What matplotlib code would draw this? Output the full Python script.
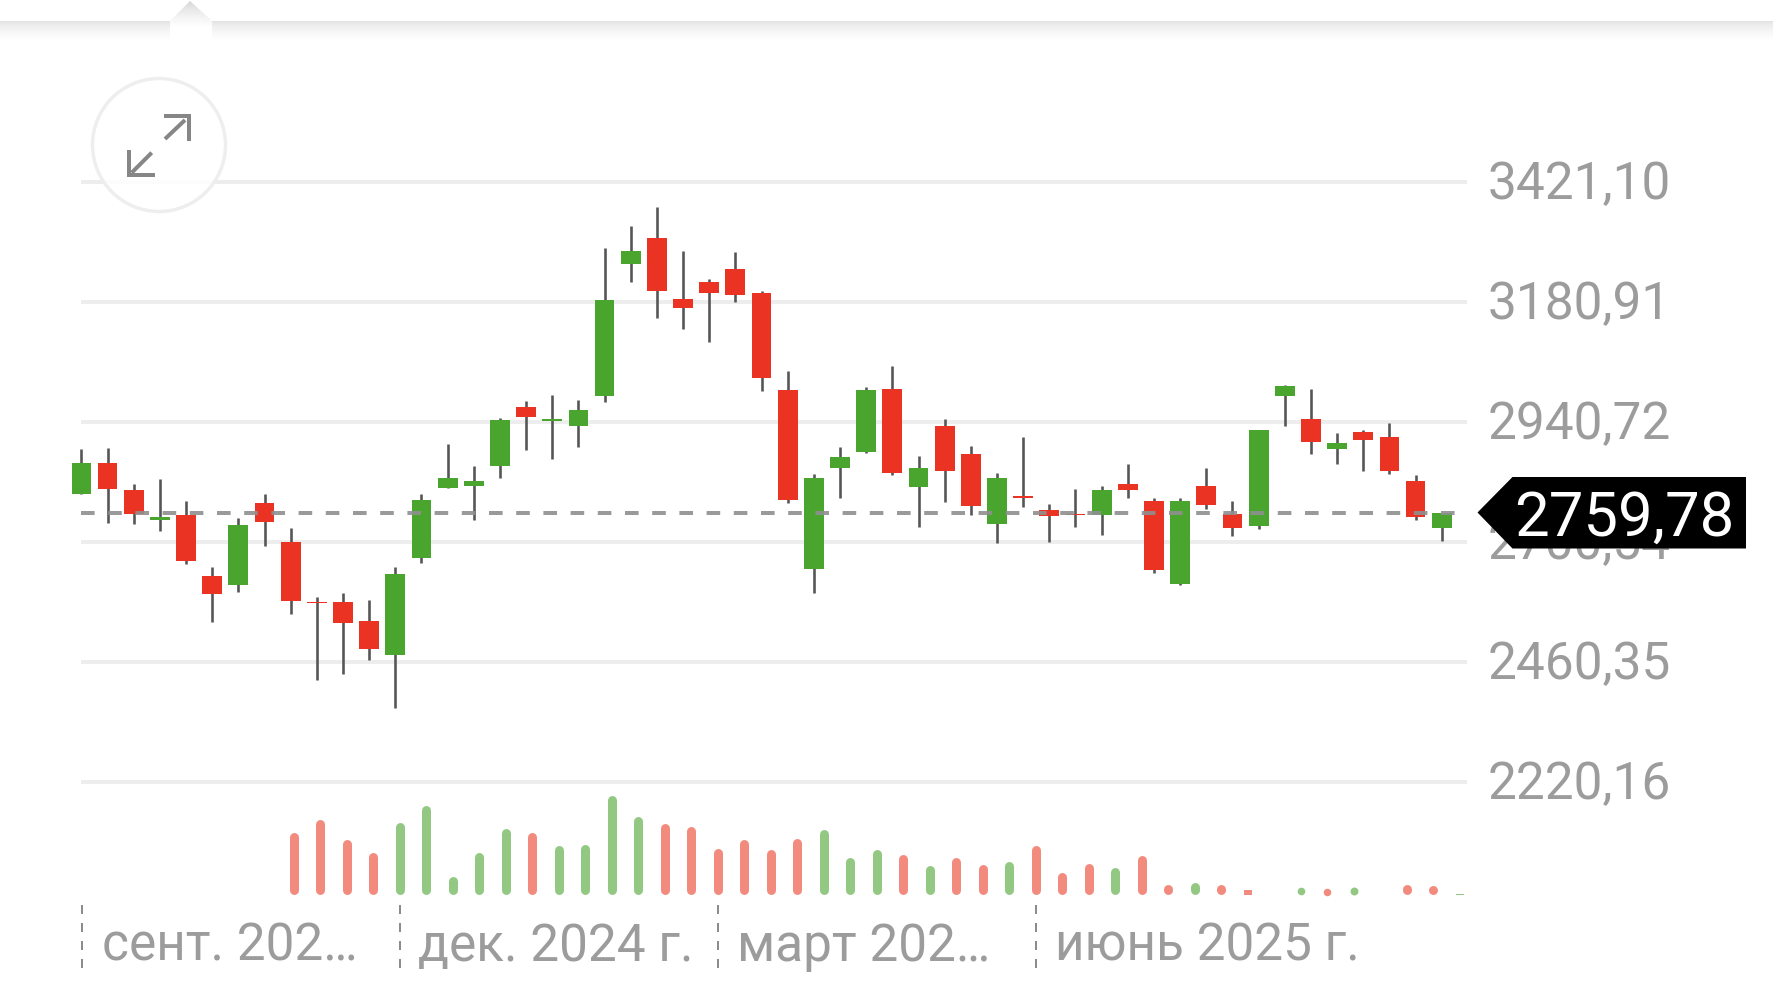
import numpy as np
import matplotlib
matplotlib.use("Agg")
import matplotlib.pyplot as plt
from matplotlib.patches import Polygon, Circle
from matplotlib.transforms import ScaledTranslation

plt.rcParams['font.family'] = ['Roboto', 'DejaVu Sans']
plt.rcParams['lines.solid_capstyle'] = 'butt'

open_ = [2796.5,2858.6,2805.4,2745.4,2755.7,2632.2,2614.2,2779.9,2700.5,2580.4,2580.4,2543.9,2474.8,2668.8,2808.9,2813.0,2852.4,2971.8,2942.8,2933.8,
         2993.2,3256.8,3308.6,3187.1,3221.6,3246.5,3199.5,3005.6,2648.1,2849.6,2881.4,3007.7,2811.7,2933.8,2876.5,2736.4,2792.3,2764.7,2756.4,2754.4,
         2816.5,2783.3,2616.3,2813.6,2756.8,2733.3,2992.2,2947.4,2887.2,2920.7,2912.0,2823.7,2730.0]
close = [2858.6,2807.5,2757.1,2750.2,2662.6,2596.3,2734.3,2741.9,2583.2,2579.1,2538.3,2486.6,2637.7,2786.1,2828.9,2823.4,2944.2,2951.1,2947.6,2965.6,
         3184.4,3283.7,3203.7,3169.9,3198.2,3194.7,3028.4,2784.7,2828.9,2871.7,3005.6,2838.6,2849.6,2843.4,2772.3,2828.9,2789.6,2753.7,2754.4,2805.4,
         2804.8,2644.6,2783.5,2775.5,2730.0,2924.7,3012.3,2900.6,2898.6,2904.6,2842.4,2750.7,2758.8]
high = [2886.9,2889.6,2817.2,2826.2,2783.3,2651.5,2748.8,2797.8,2728.8,2591.5,2599.8,2585.3,2651.5,2797.8,2897.9,2853.1,2949.0,2982.8,2996.0,2984.9,
        3288.6,3332.8,3372.1,3282.4,3226.5,3280.3,3202.3,3043.6,2837.9,2891.7,3010.4,3053.2,2873.1,2947.6,2893.1,2839.3,2910.3,2777.1,2806.8,2813.0,
        2857.9,2788.2,2788.9,2849.7,2783.5,2926.0,3014.3,3006.3,2918.6,2924.7,2938.7,2834.4,2760.1]
low = [2796.5,2739.9,2737.8,2724.0,2657.1,2541.8,2600.4,2693.6,2557.0,2425.8,2437.6,2465.9,2369.9,2658.4,2808.9,2744.7,2828.2,2884.8,2867.6,2890.3,
       2982.1,3221.6,3149.9,3127.8,3100.8,3180.9,3002.2,2778.5,2599.1,2788.2,2878.6,2834.4,2731.6,2781.3,2755.7,2699.8,2770.2,2702.0,2730.2,2715.7,
       2789.6,2638.4,2614.9,2767.5,2713.9,2727.3,2934.0,2876.5,2857.8,2843.0,2837.7,2745.4,2702.6]
volume = [0,0,0,0,0,0,0,0,187,226,168,127,217,269,55,129,200,187,149,151,300,237,214,205,139,168,137,169,197,114,137,123,87,114,92,100,150,66,94,83,
          119,31,37,32,15,0,23,19,24,0,32,27,3]
price_ticks = [3421.10, 3180.91, 2940.72, 2700.54, 2460.35, 2220.16]
price_labels = ['3421,10', '3180,91', '2940,72', '2700,54', '2460,35', '2220,16']
last_price = 2759.78
last_label = '2759,78'
month_pos = [0, 12, 24, 36]
month_labels = ['сент. 202…', 'дек. 2024 г.', 'март 202…', 'июнь 2025 г.']

W, H = 1773, 1000
UP, DOWN, WICK = '#4AA52E', '#EA3323', '#555555'
UP_V, DOWN_V = '#93C883', '#F28A7D'
GRID, TXT = '#EDEDED', '#9C9C9C'
px = 72 / 100
FS = 37

fig = plt.figure(figsize=(W / 100, H / 100), dpi=100, facecolor='white')

def axes_px(x0, x1, ytop, ybot, **kw):
    return fig.add_axes([x0 / W, 1 - ybot / H, (x1 - x0) / W, (ybot - ytop) / H], **kw)

# background band
bg = axes_px(0, W, 0, H, zorder=0)
bg.set_xlim(0, W); bg.set_ylim(H, 0); bg.axis('off')
g = np.linspace(0, 1, 40)[:, None]
band = 0.875 + 0.125 * g ** 0.55
bg.imshow(band, extent=[0, W, 41, 21], cmap='gray', vmin=0, vmax=1, aspect='auto', origin='upper')
g2 = np.linspace(0, 1, 60)[:, None]
im = bg.imshow(0.82 + 0.18 * np.clip(g2 * 1.5, 0, 1) ** 0.6, extent=[170, 212, 41, 1], cmap='gray', vmin=0, vmax=1,
               aspect='auto', origin='upper')
clip = Polygon([(170, 21), (190, 1), (212, 21), (212, 41), (170, 41)], transform=bg.transData, fc='none', ec='none')
bg.add_patch(clip)
im.set_clip_path(clip)
bg.set_xlim(0, W); bg.set_ylim(H, 0)

# main price axes
ax = axes_px(81.4, 1467, 182, 782.5, zorder=1)
ax.patch.set_alpha(0)
ax.set_xlim(0, (1467 - 81.4) / 26.16)
ax.set_ylim(price_ticks[-1], price_ticks[0])
for s in ax.spines.values():
    s.set_visible(False)
ax.yaxis.tick_right()
ax.set_yticks(price_ticks, price_labels)
ax.set_xticks([])
ax.tick_params(axis='y', length=0, pad=20.5 * px, labelsize=FS, labelcolor=TXT)
ax.set_axisbelow(True)
ax.grid(axis='y', color=GRID, lw=4 * px, clip_on=False)
shift = ScaledTranslation(0, 2.5 / 100, fig.dpi_scale_trans)
for lab in ax.get_yticklabels():
    lab.set_transform(lab.get_transform() + shift)

xs = np.arange(len(open_))
o, c = np.array(open_), np.array(close)
cols = [UP if b else DOWN for b in c >= o]
ax.vlines(xs, low, high, color=WICK, lw=2.6 * px, zorder=2, clip_on=False)
ax.bar(xs, np.abs(c - o), bottom=np.minimum(o, c), width=19.8 / 26.16, color=cols, zorder=3, clip_on=False)
ax.plot([0, (1459 - 81.4) / 26.16], [last_price, last_price], color='#8F8F8F', alpha=0.9, lw=4 * px,
        dashes=(3.4, 3.4), dash_capstyle='butt', zorder=4)

# volume axes
va = axes_px(81.4, 1467, 780, 894.7, zorder=1)
va.patch.set_alpha(0)
va.set_xlim(-0.02, (1467 - 82) / 26.5)
va.set_ylim(0, 347)
va.axis('off')
r = 4.5 * 347 / 114.7
vx = np.arange(len(volume))
v = np.array(volume, float)
vcol = [UP_V if b else DOWN_V for b in c >= o]
for x, h, col in zip(vx, v, vcol):
    if h <= 0:
        continue
    if h > 30:
        va.vlines(x, r, h - r, color=col, lw=9 * px, capstyle='round', clip_on=False)
    elif h > 16:
        va.plot([x], [h / 2], 'o', color=col, ms=max(h / 3.02, 7.5) * px, mew=0, clip_on=False)
    else:
        va.bar(x, h, width=8 / 26.5, color=col)

tr = va.get_xaxis_transform()
va.vlines(month_pos, -73 / 114.7, -10 / 114.7, transform=tr, color='#8C8C8C', lw=2 * px,
          linestyles=(0, (4.5, 4.5)), clip_on=False)
offs = [20.5, 18, 19, 19]
for p, lab, d in zip(month_pos, month_labels, offs):
    va.annotate(lab, xy=(p, 0), xycoords=tr, xytext=(d * px, -66 * px), textcoords='offset points',
                ha='left', va='baseline', fontsize=FS, color=TXT, annotation_clip=False)

# overlay
ov = axes_px(0, W, 0, H, zorder=5)
ov.set_xlim(0, W); ov.set_ylim(H, 0); ov.axis('off'); ov.patch.set_alpha(0)
ov.add_patch(Circle((159, 145), 66.5, fc=(1, 1, 1, 0.85), ec='#EEEEEE', lw=3.4 * px))
for pts in ([(163.7, 116), (189, 116), (189, 141)], [(129.3, 150), (129.3, 175), (154.7, 175)],
            [(165, 139), (185, 120)], [(151.7, 152.7), (131.7, 172.7)]):
    a = np.array(pts)
    ov.plot(a[:, 0], a[:, 1], color='#868686', lw=4 * px, solid_capstyle='butt', solid_joinstyle='miter')
ov.add_patch(Polygon([(1477.5, 512.5), (1512.5, 477), (1746, 477), (1746, 548.5), (1512.5, 548.5)], fc='black', ec='none'))
ov.text(1734, 513, last_label, color='white', fontsize=44.5, ha='right', va='center_baseline')

fig.savefig('out.png', dpi=100, facecolor='white')
